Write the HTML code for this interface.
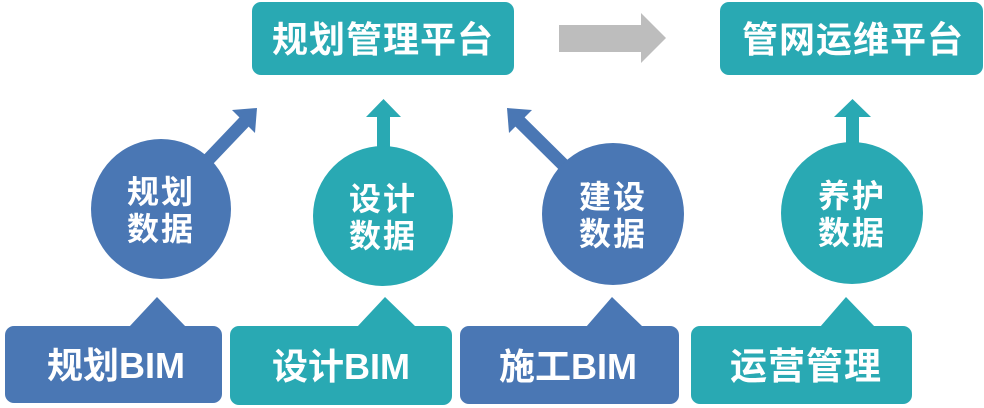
<!DOCTYPE html>
<html>
<head>
<meta charset="utf-8">
<style>
html,body{margin:0;padding:0;background:#ffffff;}
svg{display:block;}
text{font-family:"Liberation Sans","Noto Sans CJK SC",sans-serif;font-weight:bold;fill:#ffffff;}
</style>
</head>
<body>
<svg width="984" height="408" viewBox="0 0 984 408" xmlns="http://www.w3.org/2000/svg">
  <!-- top boxes -->
  <rect x="252" y="2" width="262" height="73" rx="9" fill="#29a9b3"/>
  <text x="383" y="52" font-size="36" text-anchor="middle" letter-spacing="1">规划管理平台</text>
  <rect x="720" y="2" width="263" height="73" rx="9" fill="#29a9b3"/>
  <text x="853" y="52" font-size="36" text-anchor="middle" letter-spacing="1">管网运维平台</text>

  <!-- gray arrow -->
  <polygon points="559,25 641,25 641,13 666,38 641,63 641,52 559,52" fill="#bdbdbd"/>

  <!-- arrow 1 (diagonal up-right) -->
  <line x1="165" y1="205" x2="246" y2="120" stroke="#4a77b4" stroke-width="13"/>
  <polygon points="257,108 232,110 255,133" fill="#4a77b4"/>
  <!-- arrow 3 (diagonal up-left) -->
  <line x1="609" y1="210" x2="518" y2="120" stroke="#4a77b4" stroke-width="13"/>
  <polygon points="507,108 532,110 509,133" fill="#4a77b4"/>
  <!-- arrow 2 up -->
  <rect x="377" y="114" width="13" height="60" fill="#29a9b3"/>
  <polygon points="383.5,99 366,117 401,117" fill="#29a9b3"/>
  <!-- arrow 4 up -->
  <rect x="846" y="114" width="13" height="60" fill="#29a9b3"/>
  <polygon points="852.5,99 834,117 871,117" fill="#29a9b3"/>

  <!-- circles -->
  <circle cx="161" cy="209" r="70" fill="#4a77b4"/>
  <text x="161" y="203" font-size="32" text-anchor="middle" letter-spacing="2">规划</text>
  <text x="161" y="240" font-size="32" text-anchor="middle" letter-spacing="2">数据</text>

  <circle cx="383" cy="216" r="70" fill="#29a9b3"/>
  <text x="383" y="210" font-size="32" text-anchor="middle" letter-spacing="2">设计</text>
  <text x="383" y="247" font-size="32" text-anchor="middle" letter-spacing="2">数据</text>

  <circle cx="613" cy="214" r="71" fill="#4a77b4"/>
  <text x="613" y="208" font-size="32" text-anchor="middle" letter-spacing="2">建设</text>
  <text x="613" y="245" font-size="32" text-anchor="middle" letter-spacing="2">数据</text>

  <circle cx="852" cy="213" r="71" fill="#29a9b3"/>
  <text x="852" y="207" font-size="32" text-anchor="middle" letter-spacing="2">养护</text>
  <text x="852" y="244" font-size="32" text-anchor="middle" letter-spacing="2">数据</text>

  <!-- bottom callouts -->
  <rect x="5" y="326" width="217" height="77" rx="9" fill="#4a77b4"/>
  <polygon points="129,327 157,297 186,327" fill="#4a77b4"/>
  <text x="116" y="378" font-size="36" text-anchor="middle">规划BIM</text>

  <rect x="230" y="326" width="222" height="79" rx="9" fill="#29a9b3"/>
  <polygon points="357,327 385,297 416,327" fill="#29a9b3"/>
  <text x="341" y="379" font-size="36" text-anchor="middle">设计BIM</text>

  <rect x="460" y="326" width="219" height="78" rx="9" fill="#4a77b4"/>
  <polygon points="586,327 612,297 643,327" fill="#4a77b4"/>
  <text x="568" y="379" font-size="36" text-anchor="middle">施工BIM</text>

  <rect x="691" y="326" width="221" height="78" rx="9" fill="#29a9b3"/>
  <polygon points="820,327 846,297 875,327" fill="#29a9b3"/>
  <text x="806" y="379" font-size="37" text-anchor="middle" letter-spacing="1">运营管理</text>
</svg>
</body>
</html>
